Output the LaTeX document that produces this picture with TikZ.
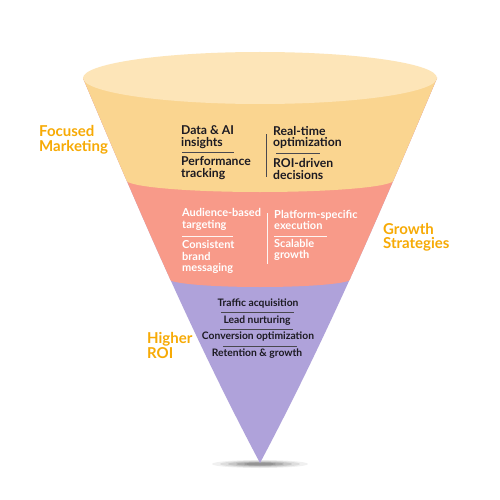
\documentclass[tikz,border=0pt]{standalone}
\usepackage{fontspec}
\setmainfont{Lato}
\definecolor{topc}{HTML}{FDE5B8}
\definecolor{yelc}{HTML}{FAD590}
\definecolor{redc}{HTML}{F89A89}
\definecolor{purc}{HTML}{AFA2DA}
\definecolor{orc}{HTML}{F7AA05}
\definecolor{txt}{HTML}{1C1A22}
\begin{document}
\begin{tikzpicture}[x=1pt,y=-1pt,
  lab/.style={inner sep=0pt,anchor=west,align=left,text=orc,font=\fontsize{15}{14.5}\selectfont\bfseries},
  dk/.style={inner sep=0pt,anchor=west,align=left,text=txt,font=\fontsize{12.2}{11.8}\selectfont\bfseries},
  wt/.style={inner sep=0pt,anchor=west,align=left,text=white,font=\fontsize{11}{11.8}\selectfont\bfseries},
  pu/.style={inner sep=0pt,anchor=center,text=txt,font=\fontsize{10.3}{11}\selectfont\bfseries},
  sepd/.style={draw=txt!80,line width=0.9pt},
  sepw/.style={draw=white!90!redc,line width=0.9pt}]
\useasboundingbox (0,0) rectangle (500,500);
\fill[white] (0,0) rectangle (500,500);
% shadow at tip
\foreach \r/\o in {48/0.06,40/0.08,32/0.1,24/0.12,16/0.14}
  \fill[black,opacity=\o] (260,464) ellipse [x radius=\r, y radius=\r/12];
% cone
\begin{scope}
\clip (83,78) .. controls (138,208) and (191,333) .. (260,463) .. controls (329,333) and (382,208) .. (437,78) -- cycle;
\fill[purc] (0,0) rectangle (500,500);
\fill[redc] (0,0) rectangle (500,279);
\fill[redc] (260,279) ellipse [x radius=91, y radius=8];
\fill[yelc] (0,0) rectangle (500,180);
\fill[yelc] (260,180) ellipse [x radius=134, y radius=12];
\end{scope}
\fill[topc] (260,78) ellipse [x radius=177, y radius=26];
% side labels
\node[lab] (fm) at (39,140) {Focused\\Marketing};
\node[lab] (gs) at (383,237.5) {Growth\\Strategies};
\node[lab] (hr) at (147,345.5) {Higher\\ROI};
% yellow band
\node[dk] (d1) at (181,137.5) {Data \& AI\\insights};
\node[dk] (d2) at (181,168) {Performance\\tracking};
\node[dk] (d3) at (273,137.5) {Real-time\\optimization};
\node[dk] (d4) at (273,169) {ROI-driven\\decisions};
\draw[sepd] (182,152.5) -- (234,152.5);
\draw[sepd] (276,153) -- (320,153);
\draw[sepd] (266,134) -- (266,177);
% red band
\node[wt] (r1) at (182,219.5) {Audience-based\\targeting};
\node[wt] (r2) at (182,257) {Consistent\\brand\\messaging};
\node[wt] (r3) at (274,220) {Platform-specific\\execution};
\node[wt] (r4) at (274,250) {Scalable\\growth};
\draw[sepw] (182,236) -- (233,236);
\draw[sepw] (274,236) -- (327,236);
\draw[sepw] (267,213) -- (267,264);
% purple band
\node[pu] (p1) at (258,303.5) {Traffic acquisition};
\node[pu] (p2) at (257,320.5) {Lead nurturing};
\node[pu] (p3) at (258,337) {Conversion optimization};
\node[pu] (p4) at (257,353.5) {Retention \& growth};
\draw[sepd] (221,312) -- (294,312);
\draw[sepd] (220,329) -- (293,329);
\draw[sepd] (223,346) -- (297,346);
\end{tikzpicture}
\end{document}
